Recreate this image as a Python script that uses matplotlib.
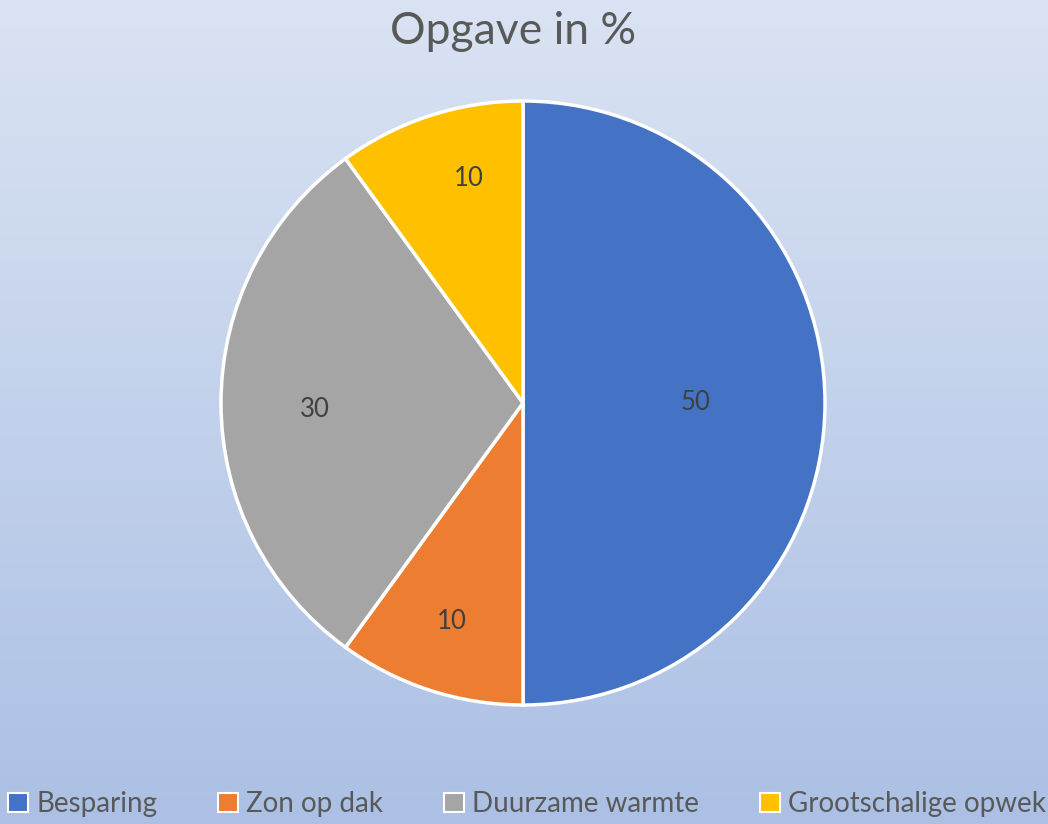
import matplotlib
matplotlib.use('Agg')
import matplotlib.pyplot as plt
from matplotlib.patches import Patch
import numpy as np

# data
categories = ['Besparing', 'Zon op dak', 'Duurzame warmte', 'Grootschalige opwek']
values = [50, 10, 30, 10]
colors = ['#4472C4', '#ED7D31', '#A5A5A5', '#FFC000']
title = 'Opgave in %'

plt.rcParams['font.family'] = ['Lato', 'DejaVu Sans']

fig = plt.figure(figsize=(10.48, 8.24), dpi=100)

# gradient background
bg = fig.add_axes([0, 0, 1, 1], zorder=0)
grad = np.linspace(0, 1, 256).reshape(-1, 1)
top = np.array([0xda, 0xe3, 0xf3]) / 255.0
bot = np.array([0xab, 0xc0, 0xe4]) / 255.0
img = top[None, None, :] * (1 - grad[:, :, None]) + bot[None, None, :] * grad[:, :, None]
bg.imshow(img, aspect='auto', extent=[0, 1, 0, 1])
bg.axis('off')

# pie axes: center (523, 403) px, radius 302 px
cx, cy, r, pad = 523, 403, 302, 6
W, H = 1048, 824
ax = fig.add_axes([(cx - r - pad) / W, (H - cy - r - pad) / H,
                   2 * (r + pad) / W, 2 * (r + pad) / H], zorder=1)
ax.patch.set_alpha(0)
wedges, _ = ax.pie(values, colors=colors, startangle=90, counterclock=False,
                   wedgeprops=dict(edgecolor='white', linewidth=2.5))
lim = (r + pad) / r
ax.set_xlim(-lim, lim)
ax.set_ylim(-lim, lim)
ax.set_aspect('equal')
ax.axis('off')

# data labels
dists = [0.57, 0.76, 0.67, 0.78]
shifts = [0, 0, -0.02, 0.06]
for w, v, d, s in zip(wedges, values, dists, shifts):
    ang = np.deg2rad((w.theta1 + w.theta2) / 2)
    ax.text(d * np.cos(ang) + s, d * np.sin(ang) + (s if s < 0 else 0), str(v),
            ha='center', va='center', fontsize=18.5, color='#404040')

fig.text(0.49, 0.962, title, ha='center', va='center', fontsize=32, color='#595959')

handles = [Patch(facecolor=c, edgecolor='white', linewidth=1.5) for c in colors]
leg = fig.legend(handles, categories, loc='lower center', bbox_to_anchor=(0.503, -0.022),
                 ncol=4, frameon=False, fontsize=20, labelcolor='#595959',
                 handlelength=0.7, handleheight=0.7, handletextpad=0.3,
                 columnspacing=2.2)

fig.savefig('out.png', dpi=100)
